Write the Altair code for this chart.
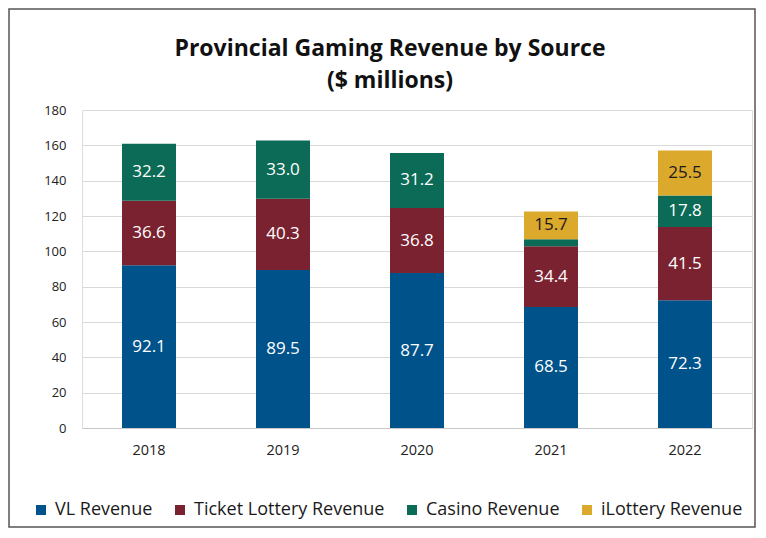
import altair as alt
import pandas as pd

years = ["2018", "2019", "2020", "2021", "2022"]
sources = ["VL Revenue", "Ticket Lottery Revenue", "Casino Revenue", "iLottery Revenue"]
vl = [92.1, 89.5, 87.7, 68.5, 72.3]
ticket = [36.6, 40.3, 36.8, 34.4, 41.5]
casino = [32.2, 33.0, 31.2, 3.9, 17.8]
ilottery = [None, None, None, 15.7, 25.5]
y_ticks = [0, 20, 40, 60, 80, 100, 120, 140, 160, 180]
colors = ["#00528a", "#7b2231", "#0b6b56", "#dba92b"]
label_colors = ["#ffffff", "#ffffff", "#ffffff", "#1a1a1a"]

rows = []
for i, yr in enumerate(years):
    for k, vals in enumerate([vl, ticket, casino, ilottery]):
        v = vals[i]
        if v is None:
            continue
        rows.append({"year": yr, "source": sources[k], "value": v, "order": k,
                     "lc": label_colors[k], "lbl": f"{v:.1f}" if v >= 5 else ""})
df = pd.DataFrame(rows)

W, H = 670, 318

xaxis = alt.Axis(labelAngle=0, ticks=False, domainColor="#c8c8c8",
                 labelFont="Open Sans", labelFontSize=14.5,
                 labelColor="#222222", labelPadding=15, title=None)
yaxis = alt.Axis(values=y_ticks, domain=False, ticks=False,
                 labelOverlap=False, gridColor="#d9d9d9",
                 labelFont="Open Sans", labelFontSize=13,
                 labelColor="#222222", labelPadding=16, title=None)
xscale = alt.Scale(paddingInner=0.6, paddingOuter=0.3)
yscale = alt.Scale(domain=[0, 180], nice=False)

base = alt.Chart(df).transform_stack(
    stack="value", groupby=["year"], as_=["y0", "y1"],
    sort=[alt.SortField("order", order="ascending")]
).transform_calculate(mid="(datum.y0 + datum.y1) / 2")

bars = base.mark_bar(size=54).encode(
    x=alt.X("year:N", sort=years, axis=xaxis, scale=xscale),
    y=alt.Y("y0:Q", axis=yaxis, scale=yscale),
    y2="y1:Q",
    color=alt.Color("source:N", scale=alt.Scale(domain=sources, range=colors),
                    legend=alt.Legend(title=None, orient="none", direction="horizontal",
                                      legendX=-50, legendY=391, symbolType="square",
                                      symbolSize=100, symbolStrokeWidth=0,
                                      labelFont="Open Sans", labelFontSize=18,
                                      labelColor="#1a1a1a", columnPadding=18,
                                      labelOffset=5, labelLimit=0)),
)

labels = base.mark_text(font="Open Sans", fontSize=17, baseline="middle").encode(
    x=alt.X("year:N", sort=years, axis=xaxis, scale=xscale),
    y=alt.Y("mid:Q", axis=yaxis, scale=yscale),
    text="lbl:N",
    color=alt.Color("lc:N", scale=None),
)

frame = alt.Chart(pd.DataFrame({"a": [0]})).mark_rect(
    fill="transparent", stroke="#555555", strokeWidth=1.5
).encode(x=alt.value(-73), x2=alt.value(W + 3), y=alt.value(-101), y2=alt.value(H + 99))

chart = alt.layer(frame, bars, labels).properties(
    width=W, height=H,
    title=alt.Title(["Provincial Gaming Revenue by Source", "($ millions)"],
                    font="Open Sans", fontSize=23, fontWeight="bold", color="#111111",
                    lineHeight=32, offset=-85, anchor="middle", dx=-27),
    padding=0,
).configure_view(stroke=None).configure(background="white")

chart.save("out.html", embed_options={"renderer": "svg", "actions": False})
